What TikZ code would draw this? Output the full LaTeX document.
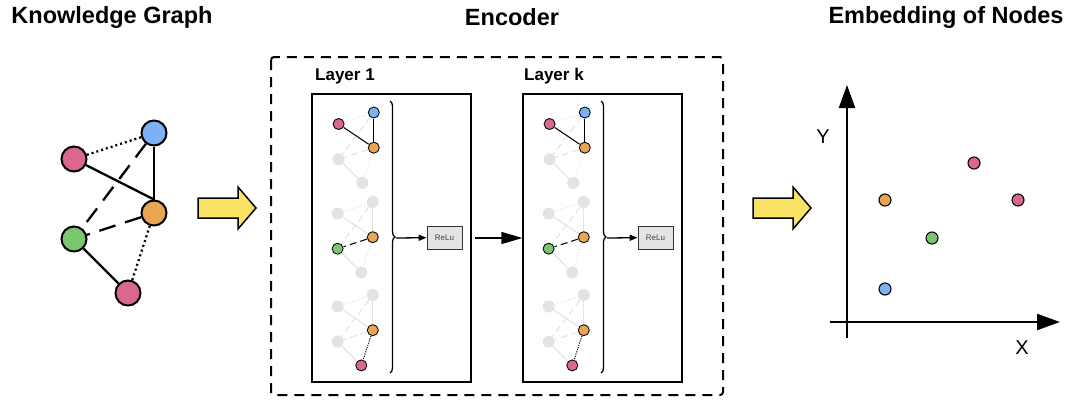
\documentclass[tikz,border=0pt]{standalone}
\usepackage{fontspec}
\setmainfont{Liberation Sans}
\usepackage{tikz}
\usetikzlibrary{arrows.meta,decorations.pathreplacing}

\definecolor{kgpink}{HTML}{D9678F}
\definecolor{kgblue}{HTML}{7DB1F5}
\definecolor{kgorange}{HTML}{E8A652}
\definecolor{kggreen}{HTML}{7CC672}
\definecolor{kggray}{HTML}{E1E3E5}
\definecolor{kgyellow}{HTML}{FAE264}
\definecolor{relugray}{HTML}{E4E4E4}

\tikzset{
  title/.style={font=\fontsize{23.5}{28}\selectfont\bfseries},
  layerlabel/.style={font=\fontsize{17}{20}\selectfont\bfseries, inner sep=0pt},
  kgnode/.style={circle, draw=black, line width=2pt, minimum size=25pt, inner sep=0pt},
  kgedge/.style={line width=2.3pt},
  kgdots/.style={dash pattern=on 2pt off 3pt},
  kgdash/.style={dash pattern=on 17pt off 10pt},
  ghostnode/.style={circle, fill=kggray, minimum size=12pt, inner sep=0pt},
  ghostedge/.style={draw=kggray, line width=1.1pt},
  mininode/.style={circle, draw=black, line width=0.8pt, minimum size=11pt, inner sep=0pt},
  miniedge/.style={line width=1pt},
  minidots/.style={dash pattern=on 1pt off 1.3pt},
  minidash/.style={dash pattern=on 7pt off 4pt},
  layerbox/.style={draw=black, line width=1.2pt, minimum width=159pt, minimum height=288pt, inner sep=0pt},
  relubox/.style={draw=black!80, fill=relugray, line width=0.8pt, minimum width=35pt, minimum height=23pt,
    inner sep=0pt, font=\fontsize{8}{9}\selectfont, text=black!75},
  bracestyle/.style={decorate, decoration={brace, mirror, amplitude=5pt}, line width=1.3pt},
  fatarrowstyle/.style={fill=kgyellow, draw=black, line width=1.5pt, line join=miter},
  embnode/.style={circle, draw=black, line width=1.1pt, minimum size=12pt, inner sep=0pt},
  axis/.style={line width=2.3pt},
}

% yellow block arrow, #1,#2 = upper left corner of the shaft
\newcommand{\fatarrow}[2]{%
  \filldraw[fatarrowstyle, shift={(#1,#2)}] (0,0) -- (40,0) -- (40,-11) -- (58,10) -- (40,31) -- (40,20) -- (0,20) -- cycle;}

% small grey copy of the graph, #1 = prefix, #2,#3 = shift
\newcommand{\minigraph}[3]{%
  \begin{scope}[shift={(#2,#3)}]
  \node[ghostnode] (#1a) at (32.6,70) {};
  \node[ghostnode] (#1b) at (67.8,58.5) {};
  \node[ghostnode] (#1c) at (67.8,93.7) {};
  \node[ghostnode] (#1d) at (32.6,105.2) {};
  \node[ghostnode] (#1e) at (56.3,128.9) {};
  \end{scope}
  \draw[ghostedge, dotted] (#1a) -- (#1b);
  \draw[ghostedge] (#1a) -- (#1c);
  \draw[ghostedge] (#1b) -- (#1c);
  \draw[ghostedge, minidash] (#1b) -- (#1d);
  \draw[ghostedge, minidash] (#1c) -- (#1d);
  \draw[ghostedge] (#1d) -- (#1e);
  \draw[ghostedge, dotted] (#1c) -- (#1e);}

\begin{document}
\begin{tikzpicture}[x=1pt,y=-1pt]
\useasboundingbox (0,0) rectangle (1074,400);

% Titles
\node[title] (kgtitle) at (112,17) {Knowledge Graph};
\node[title] (enctitle) at (512,17) {Encoder};
\node[title] (embtitle) at (946,17) {Embedding of Nodes};

% Knowledge graph
\node[kgnode, fill=kgpink] (kpa) at (74,159) {};
\node[kgnode, fill=kgblue] (kbl) at (154,133) {};
\node[kgnode, fill=kgorange] (kor) at (154,213) {};
\node[kgnode, fill=kggreen] (kgr) at (74,239) {};
\node[kgnode, fill=kgpink] (kpb) at (128,293) {};
\draw[kgedge, kgdots] (kpa) -- (kbl);
\draw[kgedge] (kpa) -- (kor.north);
\draw[kgedge] (kbl) -- (kor);
\draw[kgedge, kgdash] (kbl) -- (kgr);
\draw[kgedge, kgdash] (kor) -- (kgr);
\draw[kgedge] (kgr) -- (kpb);
\draw[kgedge, kgdots] (kor) -- (kpb);

\fatarrow{198}{198}

% Encoder
\draw[line width=2pt, dash pattern=on 10pt off 7pt, rounded corners=3pt] (271,57) rectangle (723,395);

% Layer 1
\node[layerbox] (lay1) at (391.5,238) {};
\node[layerlabel, anchor=west] (lab1) at (315,76) {Layer 1};
\minigraph{f}{306}{54}
\draw[miniedge] (fa) -- (fc);
\draw[miniedge] (fb) -- (fc);
\node[mininode, fill=kgpink] (fA) at (fa) {};
\node[mininode, fill=kgblue] (fB) at (fb) {};
\node[mininode, fill=kgorange] (fC) at (fc) {};
\minigraph{g}{305}{143.5}
\draw[miniedge, minidash] (gc) -- (gd);
\node[mininode, fill=kgorange] (gC) at (gc) {};
\node[mininode, fill=kggreen] (gD) at (gd) {};
\minigraph{h}{305}{236.5}
\draw[miniedge, minidots] (hc) -- (he);
\node[mininode, fill=kgorange] (hC) at (hc) {};
\node[mininode, fill=kgpink] (hE) at (he) {};
\draw[bracestyle] (390,373) -- (390,101);
\coordinate (tip1) at (396,238);
\node[relubox] (relu1) at (444.5,237.5) {ReLu};
\draw[line width=1.3pt, -{Triangle[length=8pt,width=6pt]}] (tip1) -- (relu1);

% Layer k
\node[layerbox] (layk) at (602.5,238) {};
\node[layerlabel, anchor=west] (labk) at (524,76) {Layer k};
\minigraph{u}{517}{54}
\draw[miniedge] (ua) -- (uc);
\draw[miniedge] (ub) -- (uc);
\node[mininode, fill=kgpink] (uA) at (ua) {};
\node[mininode, fill=kgblue] (uB) at (ub) {};
\node[mininode, fill=kgorange] (uC) at (uc) {};
\minigraph{v}{516}{143.5}
\draw[miniedge, minidash] (vc) -- (vd);
\node[mininode, fill=kgorange] (vC) at (vc) {};
\node[mininode, fill=kggreen] (vD) at (vd) {};
\minigraph{w}{516}{236.5}
\draw[miniedge, minidots] (wc) -- (we);
\node[mininode, fill=kgorange] (wC) at (wc) {};
\node[mininode, fill=kgpink] (wE) at (we) {};
\draw[bracestyle] (601,373) -- (601,101);
\coordinate (tipk) at (607,238);
\node[relubox] (reluk) at (655.5,237.5) {ReLu};
\draw[line width=1.3pt, -{Triangle[length=8pt,width=6pt]}] (tipk) -- (reluk);

% between layers
\coordinate (out1) at (475,238);
\draw[line width=1.3pt, -{Triangle[length=21pt,width=12pt]}] (out1) -- (layk.west);

\fatarrow{753}{198}

% Embedding plot
\coordinate (ybot) at (847,338);
\coordinate (ytop) at (847,85);
\coordinate (xleft) at (830,322);
\coordinate (xright) at (1060,322);
\draw[axis, -{Triangle[length=23pt,width=16pt]}] (ybot) -- (ytop);
\draw[axis, -{Triangle[length=23pt,width=16pt]}] (xleft) -- (xright);
\node[font=\fontsize{20}{24}\selectfont] (ylab) at (823,137) {Y};
\node[font=\fontsize{20}{24}\selectfont] (xlab) at (1022,348) {X};
\node[embnode, fill=kgorange] (eo) at (885,200) {};
\node[embnode, fill=kgpink] (ep1) at (974,163) {};
\node[embnode, fill=kgpink] (ep2) at (1018,200) {};
\node[embnode, fill=kggreen] (eg) at (932,238) {};
\node[embnode, fill=kgblue] (eb) at (885,289) {};
\end{tikzpicture}
\end{document}
